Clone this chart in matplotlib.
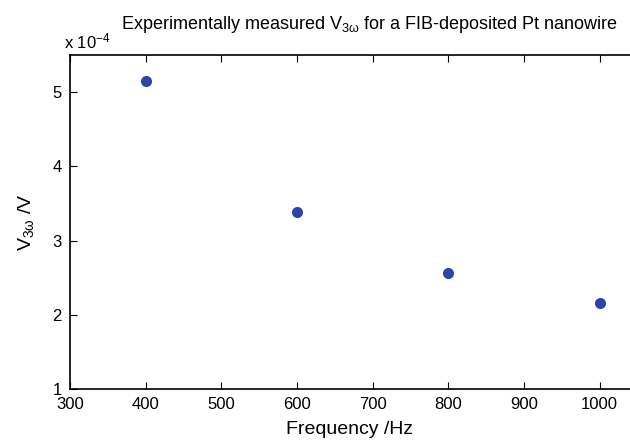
import matplotlib
matplotlib.use("Agg")
import matplotlib.pyplot as plt

plt.rcParams["font.family"] = ["Liberation Sans", "DejaVu Sans"]
plt.rcParams["mathtext.fontset"] = "custom"
plt.rcParams["mathtext.rm"] = "Liberation Sans"
plt.rcParams["mathtext.it"] = "Liberation Sans"
plt.rcParams["mathtext.default"] = "regular"

# frequency (Hz) and measured 3-omega voltage (x 1e-4 V)
freq = [400, 600, 800, 1000]
v3w = [5.15, 3.38, 2.565, 2.155]
x_ticks = [300, 400, 500, 600, 700, 800, 900, 1000]
y_ticks = [1, 2, 3, 4, 5]

fig = plt.figure(figsize=(6.3, 4.41), dpi=100)
ax = fig.add_axes([0.111, 0.118, 0.889, 0.757])

ax.plot(freq, v3w, "o", color="#2b45a8", markersize=8, markeredgewidth=0)

ax.set_xlim(300, 1040)
ax.set_ylim(1, 5.5)
ax.set_xticks(x_ticks)
ax.set_yticks(y_ticks)
ax.tick_params(direction="in", length=5, width=0.8, labelsize=12,
               top=True, right=False)
ax.tick_params(axis="x", pad=6)
ax.tick_params(axis="y", pad=6)
for s in ["left", "bottom", "top"]:
    ax.spines[s].set_linewidth(1.2)
ax.spines["right"].set_visible(False)

ax.set_xlabel("Frequency /Hz", fontsize=14, labelpad=6)
ax.set_ylabel(r"V$_{3ω}$ /V", fontsize=14, labelpad=12)
fig.text(0.587, 0.945, r"Experimentally measured V$_{3ω}$ for a FIB-deposited Pt nanowire",
         ha="center", va="center", fontsize=13)
fig.text(0.101, 0.907, r"x 10$^{-4}$", ha="left", va="center", fontsize=12)

fig.savefig("out.png", dpi=100)
